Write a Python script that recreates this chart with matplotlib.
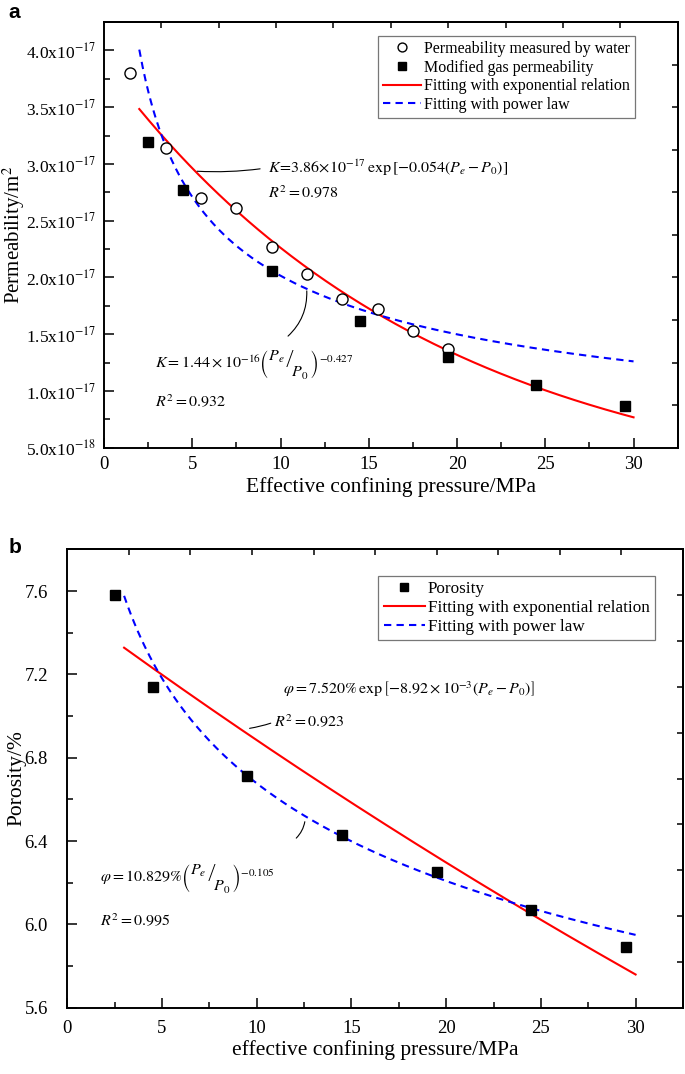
import matplotlib
matplotlib.use('Agg')
import matplotlib.pyplot as plt
from matplotlib.ticker import MultipleLocator, FuncFormatter
import numpy as np

plt.rcParams['font.family'] = ['Liberation Serif', 'DejaVu Serif']
plt.rcParams['mathtext.fontset'] = 'stix'

# ---- panel a: permeability ----
water_p = [1.5, 3.5, 5.5, 7.5, 9.5, 11.5, 13.5, 15.5, 17.5, 19.5]
water_k = [3.80e-17, 3.14e-17, 2.70e-17, 2.61e-17, 2.27e-17, 2.03e-17,
           1.81e-17, 1.72e-17, 1.53e-17, 1.37e-17]
gas_p = [2.5, 4.5, 9.5, 14.5, 19.5, 24.5, 29.5]
gas_k = [3.19e-17, 2.77e-17, 2.06e-17, 1.62e-17, 1.30e-17, 1.056e-17, 0.866e-17]

# fitted relations printed on the chart (P0 = 0.1 MPa)
P0 = 0.1
k_exp_a, k_exp_b = 3.86e-17, 0.054
k_pow_a, k_pow_n = 1.44e-16, 0.427
k_fit_range = (2, 30)

# ---- panel b: porosity ----
por_p = [2.5, 4.5, 9.5, 14.5, 19.5, 24.5, 29.5]
por_v = [7.58, 7.14, 6.71, 6.43, 6.25, 6.07, 5.89]
phi_exp_a, phi_exp_b = 7.520, 8.92e-3
phi_pow_a, phi_pow_n = 10.829, 0.105
phi_fit_range = (3, 30)

fig = plt.figure(figsize=(6.85, 10.74), dpi=100)

EQ_FS = 11.5
DIAG = r"\left(\left.\genfrac{}{}{0}{0}{P_e}{\,}\right/\!\genfrac{}{}{0}{0}{\,}{P_0}\right)"


def sci_label(v, pos):
    m, e = f"{v:.1e}".split('e')
    return f"{m}x10$^{{{int(e)}}}$"


def style_axes(ax, xmax, xpad, ypad, ysize):
    ax.set_xlim(0, xmax)
    ax.xaxis.set_major_locator(MultipleLocator(5))
    ax.xaxis.set_minor_locator(MultipleLocator(2.5))
    ax.tick_params(which='both', direction='in', top=False, right=False)
    ax.tick_params(which='major', length=7, width=1.1)
    ax.tick_params(which='minor', length=4, width=1.1)
    ax.tick_params(axis='x', which='both', pad=xpad, labelsize=13.5)
    ax.tick_params(axis='y', which='both', pad=ypad, labelsize=ysize)
    for s in ax.spines.values():
        s.set_linewidth(1.4)
    # Origin-style top/right axes with ticks at tenths
    top = ax.secondary_xaxis('top', functions=(lambda x: x / xmax, lambda f: f * xmax))
    top.set_xticks(np.arange(0.1, 0.95, 0.1))
    top.tick_params(direction='in', length=4, width=1.1, labeltop=False)
    y0, y1 = ax.get_ylim()
    right = ax.secondary_yaxis('right', functions=(lambda y: (y - y0) / (y1 - y0),
                                                    lambda f: y0 + f * (y1 - y0)))
    right.set_yticks(np.arange(0.1, 0.95, 0.1))
    right.tick_params(direction='in', length=4, width=1.1, labelright=False)
    top.spines['top'].set_linewidth(1.4)
    right.spines['right'].set_linewidth(1.4)


def leader(ax, p1, p2, rad):
    ax.annotate('', xy=p1, xytext=p2,
                arrowprops=dict(arrowstyle='-', color='black', lw=0.8,
                                connectionstyle=f'arc3,rad={rad}'))


def make_legend(ax, anchor, fs, spacing):
    leg = ax.legend(loc='upper right', bbox_to_anchor=anchor, borderaxespad=0,
                    fontsize=fs, frameon=True, fancybox=False, edgecolor='#555555',
                    handlelength=2.4, handletextpad=0.2, labelspacing=spacing,
                    borderpad=0.3, markerscale=0.8)
    leg.get_frame().set_linewidth(0.9)
    return leg


# ----- top panel -----
ax1 = fig.add_axes([0.1518, 0.5831, 0.8375, 0.3964])
xa = np.linspace(*k_fit_range, 300)
ax1.plot(water_p, water_k, 'o', ms=8, mfc='white', mec='black', mew=1.0,
         label='Permeability measured by water', zorder=4)
ax1.plot(gas_p, gas_k, 's', ms=7.5, color='black',
         label='Modified gas permeability', zorder=4)
ax1.plot(xa, k_exp_a * np.exp(-k_exp_b * (xa - P0)), color='red', lw=1.5,
         label='Fitting with exponential relation')
ax1.plot(xa, k_pow_a * (xa / P0) ** (-k_pow_n), color='blue', lw=1.5,
         ls=(0, (3.5, 2.5)), label='Fitting with power law')
ax1.set_ylim(5e-18, 4.25e-17)
ax1.yaxis.set_major_locator(MultipleLocator(0.5e-17))
ax1.yaxis.set_minor_locator(MultipleLocator(0.25e-17))
ax1.yaxis.set_major_formatter(FuncFormatter(sci_label))
style_axes(ax1, 32.5, xpad=6, ypad=6, ysize=12.5)
ax1.set_xlabel('Effective confining pressure/MPa', fontsize=15.5, labelpad=3)
ax1.set_ylabel('Permeability/m$^2$', fontsize=15)
ax1.yaxis.set_label_coords(-0.134, 0.5)
make_legend(ax1, (0.9256, 0.967), 11.5, 0.17)

ax1.text(9.29, 2.963e-17,
         r"$K\!=\!3.86\!\times\!10^{-17}\,\exp\left[-0.054\left(P_e-P_0\right)\right]$",
         fontsize=EQ_FS, va='center', ha='left')
ax1.text(9.29, 2.735e-17, r"$R^2 = 0.978$", fontsize=EQ_FS, va='center', ha='left')
leader(ax1, (5.12, 2.937e-17), (9.0, 2.96e-17), -0.05)
ax1.text(2.89, 1.232e-17,
         r"$K=1.44\times10^{-16}" + DIAG + r"^{-0.427}$",
         fontsize=EQ_FS, va='center', ha='left')
ax1.text(2.89, 0.90e-17, r"$R^2 = 0.932$", fontsize=EQ_FS, va='center', ha='left')
leader(ax1, (11.48, 1.906e-17), (10.31, 1.467e-17), 0.25)

fig.text(0.012, 0.988, 'a', fontsize=15, fontweight='bold', family='Liberation Sans',
         va='center', ha='left')

# ----- bottom panel -----
ax2 = fig.add_axes([0.0982, 0.0617, 0.8988, 0.4268])
xb = np.linspace(*phi_fit_range, 300)
ax2.plot(por_p, por_v, 's', ms=7.5, color='black', label='Porosity', zorder=4)
ax2.plot(xb, phi_exp_a * np.exp(-phi_exp_b * (xb - P0)), color='red', lw=1.5,
         label='Fitting with exponential relation')
ax2.plot(xb, phi_pow_a * (xb / P0) ** (-phi_pow_n), color='blue', lw=1.5,
         ls=(0, (3.5, 2.5)), label='Fitting with power law')
ax2.set_ylim(5.6, 7.8)
ax2.yaxis.set_major_locator(MultipleLocator(0.4))
ax2.yaxis.set_minor_locator(MultipleLocator(0.2))
ax2.yaxis.set_major_formatter(FuncFormatter(lambda v, p: f"{v:.1f}"))
style_axes(ax2, 32.5, xpad=9, ypad=14, ysize=13.5)
ax2.set_xlabel('effective confining pressure/MPa', fontsize=15.5, labelpad=2)
ax2.set_ylabel('Porosity/%', fontsize=15.5)
ax2.yaxis.set_label_coords(-0.066, 0.5)
make_legend(ax2, (0.9545, 0.9418), 12.3, 0.17)

ax2.text(11.38, 7.127,
         r"$\varphi = 7.520\%\,\exp\left[-8.92\times10^{-3}\left(P_e-P_0\right)\right]$",
         fontsize=EQ_FS, va='center', ha='left')
ax2.text(10.92, 6.97, r"$R^2 = 0.923$", fontsize=EQ_FS, va='center', ha='left')
leader(ax2, (9.48, 6.939), (10.88, 6.97), -0.05)
ax2.text(1.73, 6.22,
         r"$\varphi=10.829\%" + DIAG + r"^{-0.105}$",
         fontsize=EQ_FS, va='center', ha='left')
ax2.text(1.73, 6.015, r"$R^2 = 0.995$", fontsize=EQ_FS, va='center', ha='left')
leader(ax2, (12.56, 6.506), (11.98, 6.405), 0.2)

fig.text(0.012, 0.49, 'b', fontsize=15, fontweight='bold', family='Liberation Sans',
         va='center', ha='left')

fig.savefig('out.png', dpi=100)
